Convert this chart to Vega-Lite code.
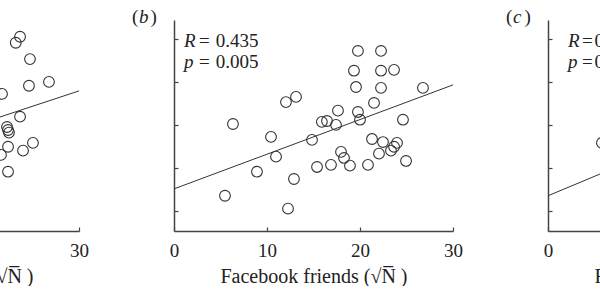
{
  "$schema": "https://vega.github.io/schema/vega-lite/v6.json",
  "autosize": {"type": "pad"},
  "padding": {"left": -243, "right": -236, "top": 8, "bottom": 0},
  "background": "white",
  "config": {
    "view": {"stroke": null},
    "concat": {"spacing": 95},
    "axis": {"grid": false}
  },
  "bounds": "flush",
  "spacing": 95,
  "data": {
    "values": [
      {"panel": "a", "type": "point", "x": 23.2, "y": 4.91},
      {"panel": "a", "type": "point", "x": 23.66, "y": 5.05},
      {"panel": "a", "type": "point", "x": 24.73, "y": 4.53},
      {"panel": "a", "type": "point", "x": 24.62, "y": 3.91},
      {"panel": "a", "type": "point", "x": 26.77, "y": 4.0},
      {"panel": "a", "type": "point", "x": 21.72, "y": 3.72},
      {"panel": "a", "type": "point", "x": 23.66, "y": 3.19},
      {"panel": "a", "type": "point", "x": 22.26, "y": 2.95},
      {"panel": "a", "type": "point", "x": 22.37, "y": 2.88},
      {"panel": "a", "type": "point", "x": 22.47, "y": 2.82},
      {"panel": "a", "type": "point", "x": 22.37, "y": 2.49},
      {"panel": "a", "type": "point", "x": 21.61, "y": 2.3},
      {"panel": "a", "type": "point", "x": 23.98, "y": 2.4},
      {"panel": "a", "type": "point", "x": 25.05, "y": 2.58},
      {"panel": "a", "type": "point", "x": 22.37, "y": 1.91},
      {"panel": "a", "type": "fit", "x": 0, "y": 1.645},
      {"panel": "a", "type": "fit", "x": 30, "y": 3.79},
      {"panel": "a", "type": "roman", "x": -4.52, "y": 5.37, "label": "("},
      {"panel": "a", "type": "italic", "x": -3.76, "y": 5.37, "label": "a"},
      {"panel": "a", "type": "roman", "x": -2.52, "y": 5.37, "label": ")"},

      {"panel": "b", "type": "point", "x": 12.04, "y": 3.53},
      {"panel": "b", "type": "point", "x": 13.12, "y": 3.65},
      {"panel": "b", "type": "point", "x": 6.34, "y": 3.02},
      {"panel": "b", "type": "point", "x": 10.43, "y": 2.72},
      {"panel": "b", "type": "point", "x": 14.84, "y": 2.65},
      {"panel": "b", "type": "point", "x": 10.97, "y": 2.26},
      {"panel": "b", "type": "point", "x": 8.92, "y": 1.91},
      {"panel": "b", "type": "point", "x": 12.9, "y": 1.74},
      {"panel": "b", "type": "point", "x": 5.48, "y": 1.35},
      {"panel": "b", "type": "point", "x": 12.26, "y": 1.05},
      {"panel": "b", "type": "point", "x": 15.38, "y": 2.02},
      {"panel": "b", "type": "point", "x": 19.78, "y": 4.72},
      {"panel": "b", "type": "point", "x": 22.26, "y": 4.72},
      {"panel": "b", "type": "point", "x": 19.35, "y": 4.26},
      {"panel": "b", "type": "point", "x": 22.26, "y": 4.26},
      {"panel": "b", "type": "point", "x": 23.66, "y": 4.28},
      {"panel": "b", "type": "point", "x": 19.57, "y": 3.88},
      {"panel": "b", "type": "point", "x": 22.26, "y": 3.86},
      {"panel": "b", "type": "point", "x": 26.77, "y": 3.86},
      {"panel": "b", "type": "point", "x": 21.51, "y": 3.51},
      {"panel": "b", "type": "point", "x": 17.63, "y": 3.33},
      {"panel": "b", "type": "point", "x": 19.78, "y": 3.3},
      {"panel": "b", "type": "point", "x": 20.0, "y": 3.12},
      {"panel": "b", "type": "point", "x": 15.9, "y": 3.07},
      {"panel": "b", "type": "point", "x": 16.45, "y": 3.09},
      {"panel": "b", "type": "point", "x": 17.42, "y": 3.0},
      {"panel": "b", "type": "point", "x": 24.62, "y": 3.12},
      {"panel": "b", "type": "point", "x": 21.29, "y": 2.67},
      {"panel": "b", "type": "point", "x": 22.47, "y": 2.6},
      {"panel": "b", "type": "point", "x": 23.98, "y": 2.58},
      {"panel": "b", "type": "point", "x": 23.66, "y": 2.49},
      {"panel": "b", "type": "point", "x": 23.33, "y": 2.4},
      {"panel": "b", "type": "point", "x": 22.04, "y": 2.33},
      {"panel": "b", "type": "point", "x": 17.96, "y": 2.37},
      {"panel": "b", "type": "point", "x": 18.28, "y": 2.23},
      {"panel": "b", "type": "point", "x": 18.92, "y": 2.05},
      {"panel": "b", "type": "point", "x": 16.88, "y": 2.07},
      {"panel": "b", "type": "point", "x": 20.86, "y": 2.07},
      {"panel": "b", "type": "point", "x": 24.95, "y": 2.16},
      {"panel": "b", "type": "fit", "x": 0, "y": 1.51},
      {"panel": "b", "type": "fit", "x": 30, "y": 3.93},
      {"panel": "b", "type": "roman", "x": -4.52, "y": 5.37, "label": "("},
      {"panel": "b", "type": "italic", "x": -3.76, "y": 5.37, "label": "b"},
      {"panel": "b", "type": "roman", "x": -2.52, "y": 5.37, "label": ")"},
      {"panel": "b", "type": "italic", "x": 1.08, "y": 4.81, "label": "R"},
      {"panel": "b", "type": "roman", "x": 2.69, "y": 4.81, "label": "="},
      {"panel": "b", "type": "roman", "x": 4.5, "y": 4.81, "label": "0.435"},
      {"panel": "b", "type": "italic", "x": 1.08, "y": 4.33, "label": "p"},
      {"panel": "b", "type": "roman", "x": 2.69, "y": 4.33, "label": "="},
      {"panel": "b", "type": "roman", "x": 4.5, "y": 4.33, "label": "0.005"},

      {"panel": "c", "type": "point", "x": 5.8, "y": 2.58},
      {"panel": "c", "type": "fit", "x": 0, "y": 1.35},
      {"panel": "c", "type": "fit", "x": 30, "y": 4.06},
      {"panel": "c", "type": "roman", "x": -4.52, "y": 5.37, "label": "("},
      {"panel": "c", "type": "italic", "x": -3.76, "y": 5.37, "label": "c"},
      {"panel": "c", "type": "roman", "x": -2.52, "y": 5.37, "label": ")"},
      {"panel": "c", "type": "italic", "x": 2.15, "y": 4.81, "label": "R"},
      {"panel": "c", "type": "roman", "x": 3.66, "y": 4.81, "label": "="},
      {"panel": "c", "type": "roman", "x": 5.0, "y": 4.81, "label": "0.392"},
      {"panel": "c", "type": "italic", "x": 2.15, "y": 4.33, "label": "p"},
      {"panel": "c", "type": "roman", "x": 3.66, "y": 4.33, "label": "="},
      {"panel": "c", "type": "roman", "x": 5.0, "y": 4.33, "label": "0.012"}
    ]
  },
  "hconcat": [
    {
      "width": 279, "height": 211,
      "transform": [{"filter": "datum.panel == 'a'"}],
      "layer": [
        {"transform": [{"filter": "datum.type == 'point'"}],
         "mark": {"type": "point", "shape": "circle", "filled": false, "stroke": "#333", "strokeWidth": 1.1, "size": 115, "opacity": 1},
         "encoding": {
           "x": {"field": "x", "type": "quantitative", "scale": {"domain": [0, 30], "nice": false},
                 "axis": {"values": [0, 10, 20, 30], "tickSize": -4, "labelPadding": 14, "labelFont": "Liberation Serif", "labelFontSize": 19, "labelColor": "#222", "labelFlush": false, "labelOverlap": false, "domainColor": "#444", "domainWidth": 1.5, "tickColor": "#444", "tickWidth": 1.2, "title": "Facebook friends (√N̅ )", "titleFont": "Liberation Serif", "titleFontSize": 20, "titleFontWeight": "normal", "titleColor": "#222", "titlePadding": 6}},
           "y": {"field": "y", "type": "quantitative", "scale": {"domain": [0.53, 5.44], "nice": false},
                 "axis": {"values": [1, 2, 3, 4, 5], "labels": false, "tickSize": -4, "title": null, "domainColor": "#444", "domainWidth": 1.5, "tickColor": "#444", "tickWidth": 1.2}}
         }},
        {"transform": [{"filter": "datum.type == 'fit'"}],
         "mark": {"type": "line", "color": "#333", "strokeWidth": 1},
         "encoding": {"x": {"field": "x", "type": "quantitative"}, "y": {"field": "y", "type": "quantitative"}}},
        {"transform": [{"filter": "datum.type == 'italic'"}],
         "mark": {"type": "text", "font": "Liberation Serif", "fontSize": 19, "fontStyle": "italic", "align": "left", "baseline": "alphabetic", "color": "#222"},
         "encoding": {"x": {"field": "x", "type": "quantitative"}, "y": {"field": "y", "type": "quantitative"}, "text": {"field": "label"}}},
        {"transform": [{"filter": "datum.type == 'roman'"}],
         "mark": {"type": "text", "font": "Liberation Serif", "fontSize": 19, "align": "left", "baseline": "alphabetic", "color": "#222"},
         "encoding": {"x": {"field": "x", "type": "quantitative"}, "y": {"field": "y", "type": "quantitative"}, "text": {"field": "label"}}}
      ]
    },
    {
      "width": 279, "height": 211,
      "transform": [{"filter": "datum.panel == 'b'"}],
      "layer": [
        {"transform": [{"filter": "datum.type == 'point'"}],
         "mark": {"type": "point", "shape": "circle", "filled": false, "stroke": "#333", "strokeWidth": 1.1, "size": 115, "opacity": 1},
         "encoding": {
           "x": {"field": "x", "type": "quantitative", "scale": {"domain": [0, 30], "nice": false},
                 "axis": {"values": [0, 10, 20, 30], "tickSize": -4, "labelPadding": 14, "labelFont": "Liberation Serif", "labelFontSize": 19, "labelColor": "#222", "labelFlush": false, "labelOverlap": false, "domainColor": "#444", "domainWidth": 1.5, "tickColor": "#444", "tickWidth": 1.2, "title": "Facebook friends (√N̅ )", "titleFont": "Liberation Serif", "titleFontSize": 20, "titleFontWeight": "normal", "titleColor": "#222", "titlePadding": 6}},
           "y": {"field": "y", "type": "quantitative", "scale": {"domain": [0.53, 5.44], "nice": false},
                 "axis": {"values": [1, 2, 3, 4, 5], "labels": false, "tickSize": -4, "title": null, "domainColor": "#444", "domainWidth": 1.5, "tickColor": "#444", "tickWidth": 1.2}}
         }},
        {"transform": [{"filter": "datum.type == 'fit'"}],
         "mark": {"type": "line", "color": "#333", "strokeWidth": 1},
         "encoding": {"x": {"field": "x", "type": "quantitative"}, "y": {"field": "y", "type": "quantitative"}}},
        {"transform": [{"filter": "datum.type == 'italic'"}],
         "mark": {"type": "text", "font": "Liberation Serif", "fontSize": 19, "fontStyle": "italic", "align": "left", "baseline": "alphabetic", "color": "#222"},
         "encoding": {"x": {"field": "x", "type": "quantitative"}, "y": {"field": "y", "type": "quantitative"}, "text": {"field": "label"}}},
        {"transform": [{"filter": "datum.type == 'roman'"}],
         "mark": {"type": "text", "font": "Liberation Serif", "fontSize": 19, "align": "left", "baseline": "alphabetic", "color": "#222"},
         "encoding": {"x": {"field": "x", "type": "quantitative"}, "y": {"field": "y", "type": "quantitative"}, "text": {"field": "label"}}}
      ]
    },
    {
      "width": 279, "height": 211,
      "transform": [{"filter": "datum.panel == 'c'"}],
      "layer": [
        {"transform": [{"filter": "datum.type == 'point'"}],
         "mark": {"type": "point", "shape": "circle", "filled": false, "stroke": "#333", "strokeWidth": 1.1, "size": 115, "opacity": 1},
         "encoding": {
           "x": {"field": "x", "type": "quantitative", "scale": {"domain": [0, 30], "nice": false},
                 "axis": {"values": [0, 10, 20, 30], "tickSize": -4, "labelPadding": 14, "labelFont": "Liberation Serif", "labelFontSize": 19, "labelColor": "#222", "labelFlush": false, "labelOverlap": false, "domainColor": "#444", "domainWidth": 1.5, "tickColor": "#444", "tickWidth": 1.2, "title": "Facebook friends (√N̅ )", "titleFont": "Liberation Serif", "titleFontSize": 20, "titleFontWeight": "normal", "titleColor": "#222", "titlePadding": 6}},
           "y": {"field": "y", "type": "quantitative", "scale": {"domain": [0.53, 5.44], "nice": false},
                 "axis": {"values": [1, 2, 3, 4, 5], "labels": false, "tickSize": -4, "title": null, "domainColor": "#444", "domainWidth": 1.5, "tickColor": "#444", "tickWidth": 1.2}}
         }},
        {"transform": [{"filter": "datum.type == 'fit'"}],
         "mark": {"type": "line", "color": "#333", "strokeWidth": 1},
         "encoding": {"x": {"field": "x", "type": "quantitative"}, "y": {"field": "y", "type": "quantitative"}}},
        {"transform": [{"filter": "datum.type == 'italic'"}],
         "mark": {"type": "text", "font": "Liberation Serif", "fontSize": 19, "fontStyle": "italic", "align": "left", "baseline": "alphabetic", "color": "#222"},
         "encoding": {"x": {"field": "x", "type": "quantitative"}, "y": {"field": "y", "type": "quantitative"}, "text": {"field": "label"}}},
        {"transform": [{"filter": "datum.type == 'roman'"}],
         "mark": {"type": "text", "font": "Liberation Serif", "fontSize": 19, "align": "left", "baseline": "alphabetic", "color": "#222"},
         "encoding": {"x": {"field": "x", "type": "quantitative"}, "y": {"field": "y", "type": "quantitative"}, "text": {"field": "label"}}}
      ]
    }
  ]
}
